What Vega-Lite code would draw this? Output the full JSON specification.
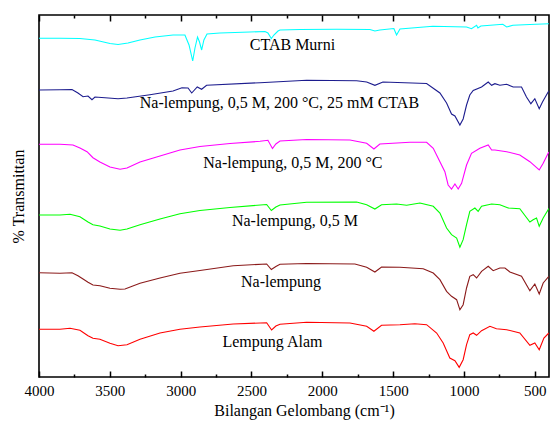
{
  "$schema": "https://vega.github.io/schema/vega-lite/v6.json",
  "autosize": {"type": "none"},
  "padding": {"left": 39, "top": 15, "right": 1, "bottom": 46},
  "width": 510,
  "height": 362,
  "background": "white",
  "config": {
    "view": {"stroke": "black", "strokeWidth": 1.6},
    "axis": {"grid": false},
    "font": "Liberation Serif"
  },
  "datasets": {
    "spectra": [
      {"s":"CTAB Murni","wn":4000,"t":338.7},{"s":"CTAB Murni","wn":3852,"t":338.7},{"s":"CTAB Murni","wn":3711,"t":338.5},{"s":"CTAB Murni","wn":3605,"t":337},{"s":"CTAB Murni","wn":3499,"t":333.5},{"s":"CTAB Murni","wn":3442,"t":332.5},{"s":"CTAB Murni","wn":3372,"t":334},{"s":"CTAB Murni","wn":3287,"t":337},{"s":"CTAB Murni","wn":3181,"t":340},{"s":"CTAB Murni","wn":3054,"t":342},{"s":"CTAB Murni","wn":2970,"t":342},{"s":"CTAB Murni","wn":2941,"t":332},{"s":"CTAB Murni","wn":2915,"t":316},{"s":"CTAB Murni","wn":2899,"t":329},{"s":"CTAB Murni","wn":2881,"t":340},{"s":"CTAB Murni","wn":2867,"t":335},{"s":"CTAB Murni","wn":2852,"t":327},{"s":"CTAB Murni","wn":2836,"t":337},{"s":"CTAB Murni","wn":2814,"t":343},{"s":"CTAB Murni","wn":2723,"t":344},{"s":"CTAB Murni","wn":2511,"t":345},{"s":"CTAB Murni","wn":2405,"t":345.5},{"s":"CTAB Murni","wn":2384,"t":344},{"s":"CTAB Murni","wn":2360,"t":338.5},{"s":"CTAB Murni","wn":2342,"t":342},{"s":"CTAB Murni","wn":2313,"t":346},{"s":"CTAB Murni","wn":2299,"t":347},{"s":"CTAB Murni","wn":2158,"t":347.5},{"s":"CTAB Murni","wn":1897,"t":347.7},{"s":"CTAB Murni","wn":1664,"t":347.5},{"s":"CTAB Murni","wn":1629,"t":346},{"s":"CTAB Murni","wn":1594,"t":347},{"s":"CTAB Murni","wn":1495,"t":348.5},{"s":"CTAB Murni","wn":1476,"t":342},{"s":"CTAB Murni","wn":1452,"t":348},{"s":"CTAB Murni","wn":1220,"t":350.7},{"s":"CTAB Murni","wn":982,"t":350},{"s":"CTAB Murni","wn":947,"t":348.3},{"s":"CTAB Murni","wn":911,"t":351.7},{"s":"CTAB Murni","wn":902,"t":349},{"s":"CTAB Murni","wn":881,"t":351},{"s":"CTAB Murni","wn":726,"t":352.7},{"s":"CTAB Murni","wn":699,"t":350},{"s":"CTAB Murni","wn":655,"t":351.7},{"s":"CTAB Murni","wn":535,"t":352.5},{"s":"CTAB Murni","wn":401,"t":353.3},

      {"s":"CTAB25","wn":4000,"t":287},{"s":"CTAB25","wn":3852,"t":287.3},{"s":"CTAB25","wn":3767,"t":287.5},{"s":"CTAB25","wn":3725,"t":284},{"s":"CTAB25","wn":3689,"t":280.3},{"s":"CTAB25","wn":3654,"t":281},{"s":"CTAB25","wn":3626,"t":277.3},{"s":"CTAB25","wn":3605,"t":280},{"s":"CTAB25","wn":3534,"t":279.3},{"s":"CTAB25","wn":3442,"t":278.3},{"s":"CTAB25","wn":3379,"t":279},{"s":"CTAB25","wn":3217,"t":282.3},{"s":"CTAB25","wn":3054,"t":286},{"s":"CTAB25","wn":2991,"t":289.3},{"s":"CTAB25","wn":2948,"t":289},{"s":"CTAB25","wn":2922,"t":284},{"s":"CTAB25","wn":2883,"t":290},{"s":"CTAB25","wn":2852,"t":287.7},{"s":"CTAB25","wn":2817,"t":291.7},{"s":"CTAB25","wn":2440,"t":294.3},{"s":"CTAB25","wn":2111,"t":296.7},{"s":"CTAB25","wn":1758,"t":296.3},{"s":"CTAB25","wn":1687,"t":295},{"s":"CTAB25","wn":1629,"t":291.7},{"s":"CTAB25","wn":1572,"t":295},{"s":"CTAB25","wn":1264,"t":293.5},{"s":"CTAB25","wn":1170,"t":284},{"s":"CTAB25","wn":1123,"t":274},{"s":"CTAB25","wn":1088,"t":263},{"s":"CTAB25","wn":1064,"t":261},{"s":"CTAB25","wn":1029,"t":252},{"s":"CTAB25","wn":1006,"t":258},{"s":"CTAB25","wn":982,"t":272},{"s":"CTAB25","wn":959,"t":282},{"s":"CTAB25","wn":935,"t":286.5},{"s":"CTAB25","wn":876,"t":290},{"s":"CTAB25","wn":829,"t":295},{"s":"CTAB25","wn":805,"t":291.7},{"s":"CTAB25","wn":782,"t":293.3},{"s":"CTAB25","wn":747,"t":291.7},{"s":"CTAB25","wn":699,"t":292.7},{"s":"CTAB25","wn":653,"t":290},{"s":"CTAB25","wn":594,"t":290},{"s":"CTAB25","wn":559,"t":280},{"s":"CTAB25","wn":528,"t":273.3},{"s":"CTAB25","wn":500,"t":278.3},{"s":"CTAB25","wn":469,"t":268.3},{"s":"CTAB25","wn":446,"t":275},{"s":"CTAB25","wn":406,"t":285},{"s":"CTAB25","wn":401,"t":286},

      {"s":"T200","wn":4000,"t":232.7},{"s":"T200","wn":3852,"t":232.7},{"s":"T200","wn":3760,"t":232},{"s":"T200","wn":3711,"t":229},{"s":"T200","wn":3661,"t":225.3},{"s":"T200","wn":3619,"t":219.3},{"s":"T200","wn":3570,"t":215},{"s":"T200","wn":3499,"t":210},{"s":"T200","wn":3428,"t":207.7},{"s":"T200","wn":3379,"t":209},{"s":"T200","wn":3287,"t":215},{"s":"T200","wn":3146,"t":221},{"s":"T200","wn":3005,"t":227},{"s":"T200","wn":2864,"t":230.5},{"s":"T200","wn":2652,"t":233.5},{"s":"T200","wn":2440,"t":235.7},{"s":"T200","wn":2384,"t":236.7},{"s":"T200","wn":2352,"t":228.5},{"s":"T200","wn":2328,"t":233},{"s":"T200","wn":2299,"t":236},{"s":"T200","wn":2111,"t":237.5},{"s":"T200","wn":1805,"t":237},{"s":"T200","wn":1687,"t":233.7},{"s":"T200","wn":1636,"t":228},{"s":"T200","wn":1594,"t":233},{"s":"T200","wn":1382,"t":234.7},{"s":"T200","wn":1264,"t":234.7},{"s":"T200","wn":1217,"t":228.7},{"s":"T200","wn":1170,"t":215.3},{"s":"T200","wn":1135,"t":205.3},{"s":"T200","wn":1112,"t":192},{"s":"T200","wn":1088,"t":188},{"s":"T200","wn":1064,"t":193},{"s":"T200","wn":1041,"t":188},{"s":"T200","wn":1017,"t":193.7},{"s":"T200","wn":982,"t":212},{"s":"T200","wn":947,"t":223.7},{"s":"T200","wn":888,"t":228.7},{"s":"T200","wn":829,"t":232},{"s":"T200","wn":805,"t":227},{"s":"T200","wn":782,"t":227},{"s":"T200","wn":699,"t":225.3},{"s":"T200","wn":606,"t":222},{"s":"T200","wn":535,"t":215.3},{"s":"T200","wn":469,"t":207},{"s":"T200","wn":441,"t":213.7},{"s":"T200","wn":406,"t":223.7},{"s":"T200","wn":401,"t":225},

      {"s":"M05","wn":4000,"t":162},{"s":"M05","wn":3852,"t":162},{"s":"M05","wn":3781,"t":162.7},{"s":"M05","wn":3711,"t":160.3},{"s":"M05","wn":3654,"t":155},{"s":"M05","wn":3619,"t":152.3},{"s":"M05","wn":3570,"t":151},{"s":"M05","wn":3499,"t":148},{"s":"M05","wn":3428,"t":146.7},{"s":"M05","wn":3379,"t":148},{"s":"M05","wn":3287,"t":152.3},{"s":"M05","wn":3146,"t":158},{"s":"M05","wn":3005,"t":163.3},{"s":"M05","wn":2864,"t":166.5},{"s":"M05","wn":2652,"t":169.5},{"s":"M05","wn":2393,"t":172.5},{"s":"M05","wn":2360,"t":166.5},{"s":"M05","wn":2328,"t":170},{"s":"M05","wn":2299,"t":172},{"s":"M05","wn":2111,"t":174.7},{"s":"M05","wn":1758,"t":175},{"s":"M05","wn":1687,"t":172.3},{"s":"M05","wn":1629,"t":168},{"s":"M05","wn":1582,"t":172.3},{"s":"M05","wn":1476,"t":173},{"s":"M05","wn":1405,"t":171.7},{"s":"M05","wn":1311,"t":174},{"s":"M05","wn":1217,"t":170.7},{"s":"M05","wn":1170,"t":164},{"s":"M05","wn":1123,"t":149},{"s":"M05","wn":1088,"t":142.3},{"s":"M05","wn":1052,"t":139},{"s":"M05","wn":1029,"t":129.7},{"s":"M05","wn":1006,"t":137.3},{"s":"M05","wn":982,"t":152.3},{"s":"M05","wn":959,"t":165.7},{"s":"M05","wn":923,"t":169},{"s":"M05","wn":900,"t":165.7},{"s":"M05","wn":876,"t":170.7},{"s":"M05","wn":805,"t":173},{"s":"M05","wn":747,"t":172.3},{"s":"M05","wn":688,"t":169},{"s":"M05","wn":606,"t":168.3},{"s":"M05","wn":535,"t":155},{"s":"M05","wn":512,"t":157.3},{"s":"M05","wn":488,"t":159},{"s":"M05","wn":469,"t":150.7},{"s":"M05","wn":441,"t":159},{"s":"M05","wn":406,"t":167.3},{"s":"M05","wn":401,"t":168.5},

      {"s":"Na","wn":4000,"t":104.3},{"s":"Na","wn":3852,"t":103.7},{"s":"Na","wn":3767,"t":104.3},{"s":"Na","wn":3725,"t":101.3},{"s":"Na","wn":3689,"t":98},{"s":"Na","wn":3654,"t":94.7},{"s":"Na","wn":3619,"t":92},{"s":"Na","wn":3570,"t":91.3},{"s":"Na","wn":3499,"t":88.7},{"s":"Na","wn":3428,"t":87.7},{"s":"Na","wn":3393,"t":88},{"s":"Na","wn":3287,"t":93.7},{"s":"Na","wn":3146,"t":99},{"s":"Na","wn":3005,"t":103.7},{"s":"Na","wn":2864,"t":106.5},{"s":"Na","wn":2629,"t":111.3},{"s":"Na","wn":2393,"t":113},{"s":"Na","wn":2360,"t":107.5},{"s":"Na","wn":2328,"t":110.5},{"s":"Na","wn":2299,"t":112.7},{"s":"Na","wn":2111,"t":113.5},{"s":"Na","wn":1770,"t":113},{"s":"Na","wn":1687,"t":109.7},{"s":"Na","wn":1629,"t":105},{"s":"Na","wn":1582,"t":110},{"s":"Na","wn":1452,"t":109.7},{"s":"Na","wn":1288,"t":108.3},{"s":"Na","wn":1217,"t":104},{"s":"Na","wn":1170,"t":97.3},{"s":"Na","wn":1123,"t":85.7},{"s":"Na","wn":1088,"t":80.7},{"s":"Na","wn":1052,"t":77.3},{"s":"Na","wn":1029,"t":67.3},{"s":"Na","wn":1006,"t":72.3},{"s":"Na","wn":982,"t":89},{"s":"Na","wn":959,"t":100.7},{"s":"Na","wn":935,"t":102.3},{"s":"Na","wn":911,"t":99},{"s":"Na","wn":876,"t":105.7},{"s":"Na","wn":829,"t":110.7},{"s":"Na","wn":794,"t":106.3},{"s":"Na","wn":747,"t":109},{"s":"Na","wn":711,"t":109},{"s":"Na","wn":676,"t":105},{"s":"Na","wn":594,"t":100.7},{"s":"Na","wn":535,"t":86.3},{"s":"Na","wn":500,"t":93},{"s":"Na","wn":469,"t":83},{"s":"Na","wn":441,"t":94},{"s":"Na","wn":401,"t":100.7},

      {"s":"Alam","wn":4000,"t":47.7},{"s":"Alam","wn":3852,"t":47.7},{"s":"Alam","wn":3781,"t":48.7},{"s":"Alam","wn":3711,"t":46.7},{"s":"Alam","wn":3654,"t":41.3},{"s":"Alam","wn":3619,"t":38.7},{"s":"Alam","wn":3570,"t":37.7},{"s":"Alam","wn":3499,"t":33.7},{"s":"Alam","wn":3442,"t":31.3},{"s":"Alam","wn":3379,"t":32.3},{"s":"Alam","wn":3287,"t":37.7},{"s":"Alam","wn":3146,"t":44},{"s":"Alam","wn":3005,"t":47.7},{"s":"Alam","wn":2864,"t":50},{"s":"Alam","wn":2629,"t":53},{"s":"Alam","wn":2393,"t":54.3},{"s":"Alam","wn":2358,"t":47},{"s":"Alam","wn":2328,"t":51},{"s":"Alam","wn":2299,"t":52.7},{"s":"Alam","wn":2111,"t":54.7},{"s":"Alam","wn":1805,"t":54},{"s":"Alam","wn":1687,"t":50.7},{"s":"Alam","wn":1636,"t":45.7},{"s":"Alam","wn":1582,"t":51.7},{"s":"Alam","wn":1452,"t":52.3},{"s":"Alam","wn":1347,"t":53.3},{"s":"Alam","wn":1264,"t":52.3},{"s":"Alam","wn":1193,"t":44},{"s":"Alam","wn":1147,"t":34},{"s":"Alam","wn":1100,"t":19},{"s":"Alam","wn":1064,"t":16.3},{"s":"Alam","wn":1034,"t":9.7},{"s":"Alam","wn":1006,"t":17.3},{"s":"Alam","wn":982,"t":32.3},{"s":"Alam","wn":959,"t":42.3},{"s":"Alam","wn":935,"t":44},{"s":"Alam","wn":911,"t":41.7},{"s":"Alam","wn":876,"t":46.3},{"s":"Alam","wn":817,"t":50.7},{"s":"Alam","wn":771,"t":48.3},{"s":"Alam","wn":699,"t":47.3},{"s":"Alam","wn":606,"t":44},{"s":"Alam","wn":535,"t":31.7},{"s":"Alam","wn":500,"t":34},{"s":"Alam","wn":469,"t":27.3},{"s":"Alam","wn":436,"t":39},{"s":"Alam","wn":401,"t":44}
    ],
    "labels": [
      {"label": "CTAB Murni", "wn": 2211, "t": 332},
      {"label": "Na-lempung, 0,5 M, 200 °C, 25 mM CTAB", "wn": 2303, "t": 274},
      {"label": "Na-lempung, 0,5 M, 200 °C", "wn": 2208, "t": 214},
      {"label": "Na-lempung, 0,5 M", "wn": 2193, "t": 156},
      {"label": "Na-lempung", "wn": 2292, "t": 95},
      {"label": "Lempung Alam", "wn": 2352, "t": 35}
    ]
  },
  "resolve": {"axis": {"x": "independent"}},
  "layer": [
    {
      "data": {"name": "spectra"},
      "mark": {"type": "line", "strokeWidth": 1.1, "clip": true},
      "encoding": {
        "x": {
          "field": "wn", "type": "quantitative",
          "scale": {"domain": [4000, 400], "nice": false, "zero": false},
          "axis": {
            "orient": "bottom",
            "values": [4000, 3750, 3500, 3250, 3000, 2750, 2500, 2250, 2000, 1750, 1500, 1250, 1000, 750, 500],
            "labelExpr": "datum.value % 500 === 0 ? datum.label : ''",
            "format": "d",
            "tickSize": {"condition": {"test": "datum.value % 500 === 0", "value": -6}, "value": -3},
            "tickColor": "black", "tickWidth": 1.5,
            "labelPadding": 12, "labelFlush": false, "labelBound": false, "labelOverlap": false,
            "labelFont": "Liberation Serif", "labelFontSize": 15, "labelColor": "black",
            "title": "Bilangan Gelombang (cm⁻¹)",
            "titleFont": "Liberation Serif", "titleFontSize": 16, "titleFontWeight": "normal", "titleColor": "black",
            "titlePadding": 1, "titleX": 265,
            "domain": false
          }
        },
        "y": {
          "field": "t", "type": "quantitative",
          "scale": {"domain": [0, 362], "nice": false, "zero": false},
          "axis": {
            "ticks": false, "labels": false, "domain": false,
            "title": "% Transmittan",
            "titleFont": "Liberation Serif", "titleFontSize": 16, "titleFontWeight": "normal", "titleColor": "black",
            "titlePadding": 13
          }
        },
        "color": {
          "field": "s", "type": "nominal",
          "scale": {
            "domain": ["CTAB Murni", "CTAB25", "T200", "M05", "Na", "Alam"],
            "range": ["#00FFFF", "#1C1C8E", "#FF00FF", "#00FF00", "#8B1A1A", "#FF0000"]
          },
          "legend": null
        }
      }
    },
    {
      "data": {"name": "labels"},
      "mark": {"type": "text", "font": "Liberation Serif", "fontSize": 16, "color": "black", "align": "center", "baseline": "middle"},
      "encoding": {
        "x": {
          "field": "wn", "type": "quantitative",
          "scale": {"domain": [4000, 400], "nice": false, "zero": false},
          "axis": {
            "orient": "top",
            "values": [4000, 3750, 3500, 3250, 3000, 2750, 2500, 2250, 2000, 1750, 1500, 1250, 1000, 750, 500],
            "labels": false,
            "tickSize": {"condition": {"test": "datum.value % 500 === 0", "value": -6}, "value": -3},
            "tickColor": "black", "tickWidth": 1.5,
            "title": null,
            "domain": false
          }
        },
        "y": {
          "field": "t", "type": "quantitative",
          "scale": {"domain": [0, 362], "nice": false, "zero": false},
          "axis": {
            "ticks": false, "labels": false, "domain": false,
            "title": "% Transmittan",
            "titleFont": "Liberation Serif", "titleFontSize": 16, "titleFontWeight": "normal", "titleColor": "black",
            "titlePadding": 13
          }
        },
        "text": {"field": "label", "type": "nominal"}
      }
    }
  ]
}
